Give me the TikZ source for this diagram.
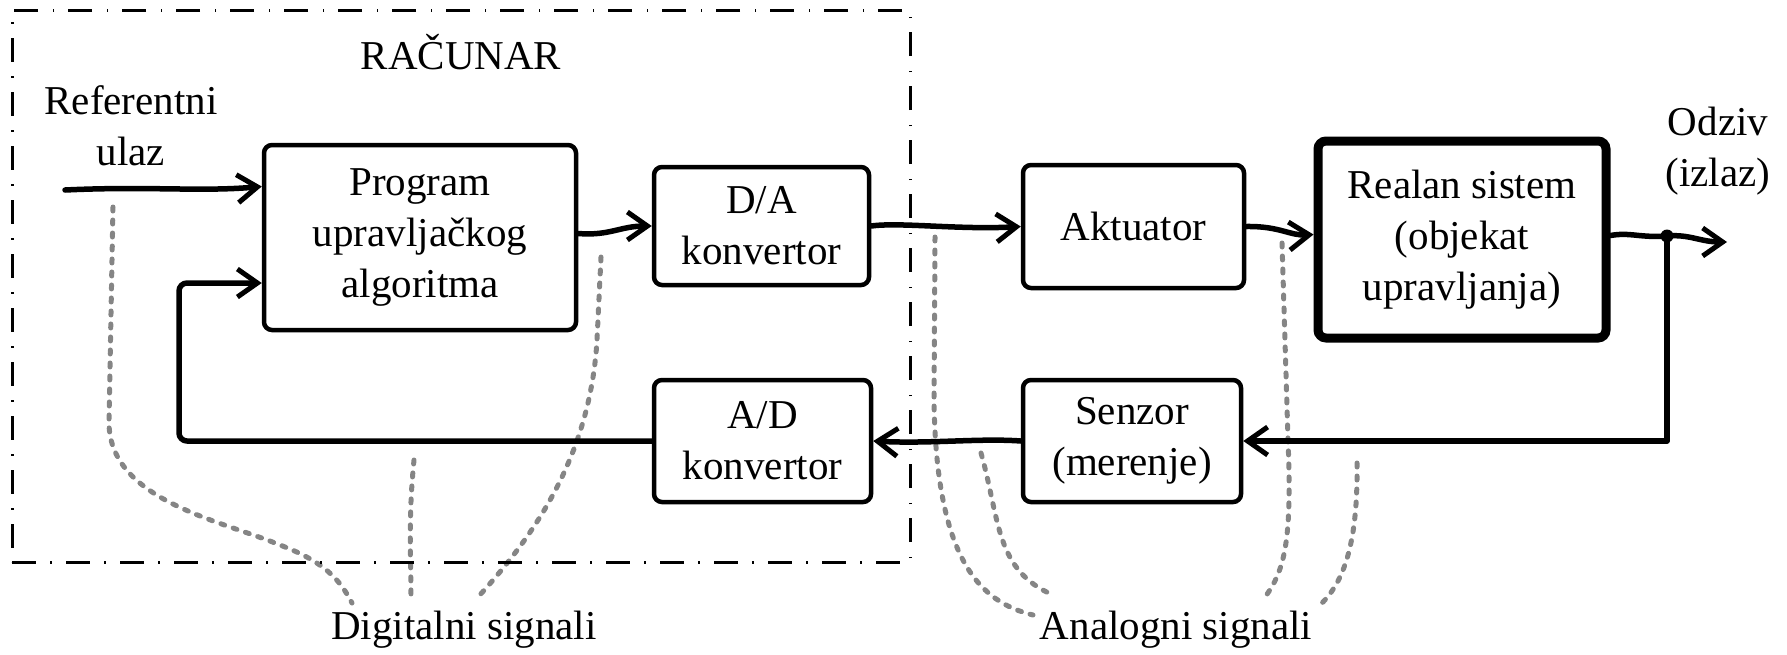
\documentclass[tikz,border=0pt]{standalone}
\usepackage{fontspec}
\setmainfont{Liberation Serif}
\usetikzlibrary{arrows.meta}
\begin{document}
\begin{tikzpicture}[x=1pt,y=-1pt,
  font=\fontsize{41}{51}\selectfont,
  blk/.style={draw, line width=4.5pt, rounded corners=8pt, align=center, inner sep=0pt},
  conn/.style={line width=5.5pt, line cap=round, line join=round},
  arr/.style={conn, -{Straight Barb[length=20pt,width=28pt,line width=5pt]}},
  sig/.style={draw=black!48, line width=5pt, line cap=round, dash pattern=on 4pt off 9pt},
  frm/.style={draw, line width=3pt, dash pattern=on 24pt off 14pt on 1.5pt off 14.5pt},
  lbl/.style={align=center, inner sep=0pt}
]
\useasboundingbox (0,0) rectangle (1787,654);

% signal annotation curves (behind)
\draw[sig] (113,207) -- (109,420) .. controls (107,500) and (220,520) .. (280,545) .. controls (325,562) and (340,580) .. (352,603);
\draw[sig] (414,460) .. controls (408,520) and (411,560) .. (411,597);
\draw[sig] (601,257) -- (597,340) .. controls (590,460) and (530,540) .. (478,597);
\draw[sig] (935,237) -- (934,400) .. controls (936,560) and (980,602) .. (1033,615);
\draw[sig] (981,453) .. controls (1000,520) and (995,570) .. (1053,595);
\draw[sig] (1282,243) -- (1288,440) .. controls (1292,540) and (1285,570) .. (1265,597);
\draw[sig] (1357,463) .. controls (1358,540) and (1345,580) .. (1322,603);

% computer frame
\node[frm, minimum width=898pt, minimum height=552pt, inner sep=0pt] (comp) at (461,286) {};
\node[lbl] (racunar) at (461,52) {RAČUNAR};

% blocks
\node[blk, minimum width=312pt, minimum height=185pt] (prog) at (420,237.5) {Program\\upravljačkog\\algoritma};
\node[blk, minimum width=215pt, minimum height=118pt] (da) at (761.5,226) {D/A\\konvertor};
\node[blk, minimum width=221pt, minimum height=123pt] (akt) at (1133.5,226.5) {Aktuator};
\node[blk, line width=9pt, minimum width=288pt, minimum height=197pt] (real) at (1462,239.5) {Realan sistem\\(objekat\\upravljanja)};
\node[blk, minimum width=217pt, minimum height=122pt] (ad) at (762.5,441) {A/D\\konvertor};
\node[blk, minimum width=218pt, minimum height=122pt] (sen) at (1132,441) {Senzor\\(merenje)};

% labels
\node[lbl] (ref) at (131,126) {Referentni\\ulaz};
\node[lbl] (odziv) at (1718,151) {Odziv\\(izlaz)};
\node[lbl] (dig) at (464,630) {Digitalni signali};
\node[lbl] (ana) at (1176,630) {Analogni signali};

% coordinates
\coordinate (refin) at (65,190);
\coordinate (tap) at (1667,236);
\coordinate (out) at (1727,242);
\coordinate (fb) at (179,283);

% connectors
\draw[arr] (refin) .. controls (150,186) and (200,192) .. ([yshift=51pt]prog.west);
\draw[arr] ([yshift=4pt]prog.east) .. controls (610,236) and (620,226) .. (da.west);
\draw[arr] (da.east) .. controls (900,222) and (960,230) .. (akt.west);
\draw[arr] (akt.east) .. controls (1280,226) and (1290,236) .. ([yshift=5pt]real.west);
\draw[conn] ([yshift=4pt]real.east) .. controls (1630,232) and (1640,238) .. (tap);
\draw[arr] (tap) .. controls (1690,234) and (1700,242) .. (out);
\fill (tap) circle (6.5pt);
\draw[arr] (tap) |- (sen.east);
\draw[arr] (sen.west) .. controls (980,438) and (930,444) .. (ad.east);
\draw[arr, rounded corners=8pt] (ad.west) -| (fb) -- ([yshift=-45.5pt]prog.west);
\end{tikzpicture}
\end{document}
